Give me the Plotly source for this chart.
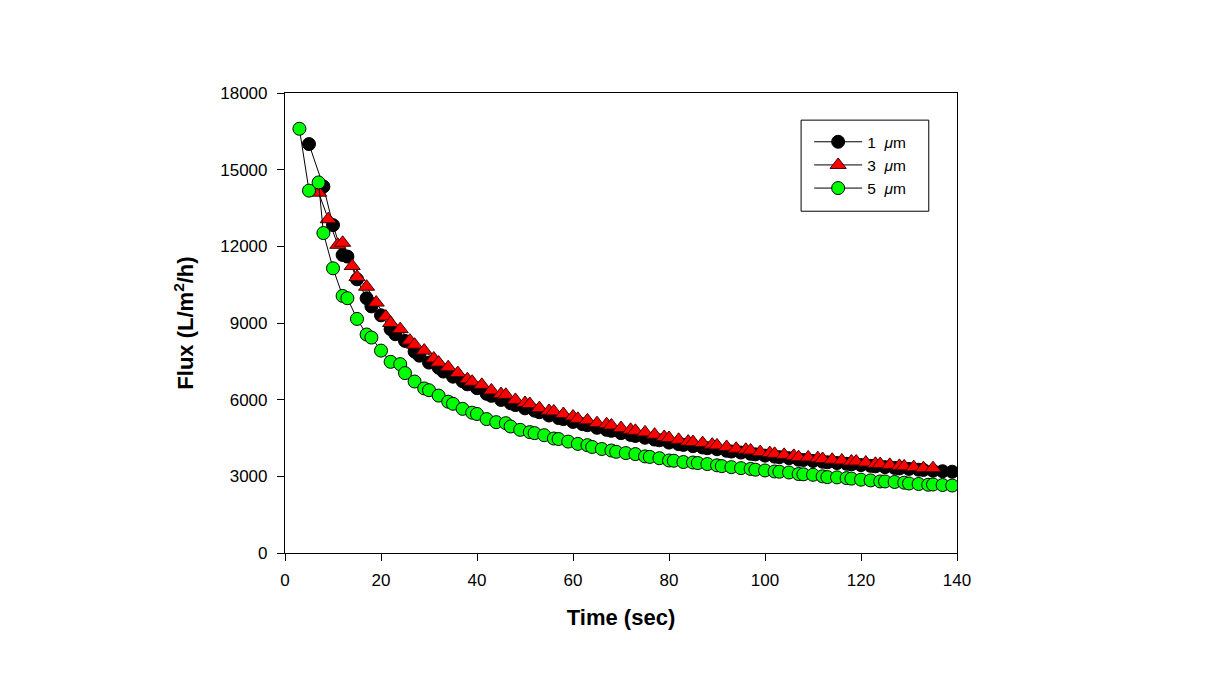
import plotly.graph_objects as go

# ---------------- data ----------------
t_1um = [5, 8, 10, 12, 13, 15, 17, 18, 20, 22, 23, 25, 27, 28, 30, 32, 33, 35, 37, 38,
         40, 42, 43, 45, 47, 48, 50, 52, 53, 55, 57, 58, 60, 62, 63, 65, 67, 68, 70, 72,
         73, 75, 77, 78, 80, 82, 83, 85, 87, 88, 90, 92, 93, 95, 97, 98, 100, 102, 103, 105,
         107, 108, 110, 112, 113, 115, 117, 118, 120, 122, 123, 125, 127, 128, 130, 132, 133, 135, 137, 139]
flux_1um = [16000, 14340, 12830, 11660, 11600, 10710, 9970, 9650, 9300, 8760, 8560, 8300, 7880, 7720, 7450, 7250, 7100, 6900, 6720, 6600,
            6450, 6230, 6150, 5990, 5860, 5790, 5660, 5570, 5510, 5380, 5280, 5240, 5130, 5040, 5000, 4900, 4820, 4780, 4690, 4620,
            4580, 4510, 4440, 4410, 4320, 4260, 4230, 4180, 4130, 4100, 4060, 4000, 3970, 3930, 3880, 3860, 3810, 3770, 3750, 3710,
            3650, 3640, 3600, 3570, 3550, 3520, 3490, 3470, 3440, 3410, 3390, 3360, 3330, 3310, 3290, 3260, 3250, 3220, 3200, 3180]

t_3um = [7, 9, 11, 12, 14, 15, 17, 19, 21, 22, 24, 26, 27, 29, 31, 32, 34, 36, 38, 39,
         41, 43, 45, 46, 48, 50, 51, 53, 55, 56, 58, 60, 61, 63, 65, 67, 68, 70, 72, 73,
         75, 77, 79, 80, 82, 84, 85, 87, 89, 90, 92, 94, 96, 97, 99, 101, 102, 104, 106, 107,
         109, 111, 112, 114, 116, 118, 119, 121, 123, 124, 126, 128, 129, 131, 133, 135]
flux_3um = [14100, 13060, 12060, 12140, 11230, 10800, 10420, 9800, 9250, 9000, 8760, 8310, 8150, 7920, 7610, 7450, 7270, 7040, 6800, 6700,
            6580, 6360, 6220, 6190, 5990, 5870, 5830, 5670, 5560, 5540, 5440, 5340, 5250, 5190, 5080, 5040, 4990, 4890, 4820, 4780,
            4720, 4630, 4540, 4500, 4430, 4360, 4340, 4300, 4240, 4210, 4150, 4080, 4040, 4010, 3950, 3910, 3880, 3840, 3800, 3750,
            3740, 3710, 3680, 3650, 3620, 3580, 3580, 3540, 3490, 3480, 3450, 3410, 3390, 3360, 3320, 3320]

t_5um = [3, 5, 7, 8, 10, 12, 13, 15, 17, 18, 20, 22, 24, 25, 27, 29, 30, 32, 34, 35,
         37, 39, 40, 42, 44, 46, 47, 49, 51, 52, 54, 56, 57, 59, 61, 63, 64, 66, 68, 69,
         71, 73, 75, 76, 78, 80, 81, 83, 85, 86, 88, 90, 91, 93, 95, 97, 98, 100, 102, 103,
         105, 107, 108, 110, 112, 113, 115, 117, 118, 120, 122, 124, 125, 127, 129, 130, 132, 134, 135, 137, 139]
flux_5um = [16600, 14180, 14500, 12520, 11140, 10060, 9970, 9160, 8550, 8430, 7920, 7480, 7390, 7040, 6710, 6440, 6370, 6160, 5920, 5840,
            5640, 5490, 5440, 5240, 5120, 5080, 4950, 4820, 4730, 4690, 4610, 4480, 4460, 4360, 4270, 4220, 4150, 4070, 4010, 3960,
            3910, 3870, 3780, 3760, 3710, 3620, 3610, 3560, 3540, 3520, 3480, 3430, 3400, 3360, 3320, 3290, 3260, 3230, 3190, 3180,
            3150, 3090, 3080, 3060, 3000, 2970, 2960, 2930, 2910, 2870, 2840, 2800, 2800, 2780, 2750, 2720, 2700, 2670, 2680, 2660, 2640]

names = ["1\u00a0\u00a0<i>μ</i>m", "3\u00a0\u00a0<i>μ</i>m", "5\u00a0\u00a0<i>μ</i>m"]
x_ticks = [0, 20, 40, 60, 80, 100, 120, 140]
y_ticks = [0, 3000, 6000, 9000, 12000, 15000, 18000]

FONT = "Liberation Sans, Arial, sans-serif"

fig = go.Figure()
fig.add_trace(go.Scatter(
    x=t_1um, y=flux_1um, mode="lines+markers", name=names[0],
    line=dict(color="black", width=1),
    marker=dict(symbol="circle", size=13, color="black", line=dict(color="black", width=1))))
fig.add_trace(go.Scatter(
    x=t_3um, y=flux_3um, mode="lines+markers", name=names[1],
    line=dict(color="black", width=1),
    marker=dict(symbol="triangle-up", size=14, color="#ff0000", line=dict(color="#400000", width=1))))
fig.add_trace(go.Scatter(
    x=t_5um, y=flux_5um, mode="lines+markers", name=names[2],
    line=dict(color="black", width=1),
    marker=dict(symbol="circle", size=13, color="#00ff00", line=dict(color="black", width=1))))

axis_common = dict(
    showline=True, linecolor="black", linewidth=1.2, mirror=True,
    ticks="outside", ticklen=7, tickwidth=1, tickcolor="black",
    showgrid=False, zeroline=False,
    tickfont=dict(family=FONT, size=17, color="black"),
)

fig.update_xaxes(range=[0, 140], tickvals=x_ticks, ticktext=[str(v) for v in x_ticks],
                 title=dict(text="<b>Time (sec)</b>", font=dict(family=FONT, size=22, color="black"), standoff=21),
                 ticklabelstandoff=4, **axis_common)
fig.update_yaxes(range=[0, 18000], tickvals=y_ticks, ticktext=[str(v) for v in y_ticks],
                 title=dict(text="<b>Flux (L/m<sup>2</sup>/h)</b>", font=dict(family=FONT, size=22, color="black"), standoff=20),
                 ticklabelstandoff=6, **axis_common)

# legend frame drawn as a rectangle in paper coordinates
fig.add_shape(type="rect", xref="paper", yref="paper",
              x0=0.768, x1=0.958, y0=0.743, y1=0.941,
              line=dict(color="black", width=1), fillcolor="white", layer="below")

fig.update_layout(
    width=1218, height=677,
    margin=dict(l=277, r=269, t=85, b=132),
    paper_bgcolor="white", plot_bgcolor="rgba(0,0,0,0)",
    font=dict(family=FONT, color="black"),
    legend=dict(x=0.78, y=0.930, xanchor="left", yanchor="top",
                borderwidth=0, bgcolor="rgba(0,0,0,0)",
                font=dict(family=FONT, size=15.5, color="black"),
                tracegroupgap=0, itemwidth=48),
    showlegend=True,
)

fig.write_html("out.html")
